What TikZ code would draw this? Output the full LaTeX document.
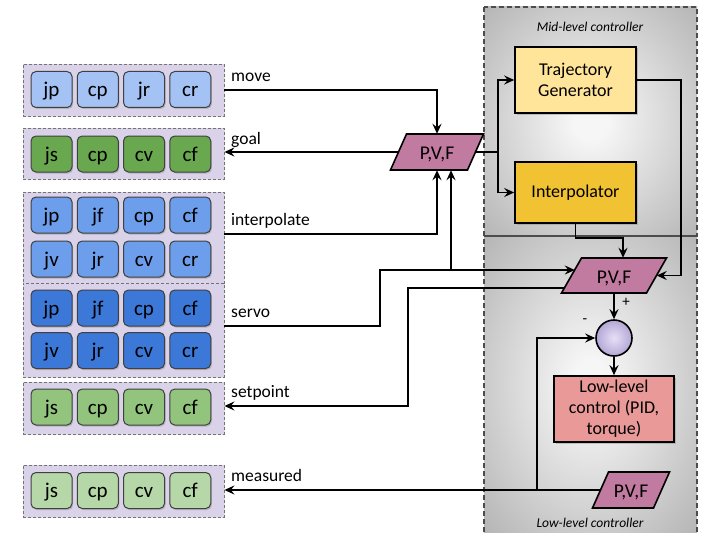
\documentclass[tikz,border=0pt]{standalone}
\usepackage{fontspec}
\setmainfont{Carlito}
\usetikzlibrary{arrows.meta,calc,shadows}

\definecolor{cmove}{HTML}{A4C2F4}
\definecolor{cgoal}{HTML}{6AA84F}
\definecolor{cinterp}{HTML}{6D9EEB}
\definecolor{cservo}{HTML}{3C78D8}
\definecolor{cset}{HTML}{93C47D}
\definecolor{cmeas}{HTML}{B6D7A8}
\definecolor{cgroup}{HTML}{D9D2E9}
\definecolor{cpvf}{HTML}{C27BA0}
\definecolor{ctraj}{HTML}{FFE599}
\definecolor{cinterpbox}{HTML}{F1C232}
\definecolor{clow}{HTML}{EA9999}
\definecolor{csum}{HTML}{B4A7D6}
\definecolor{csumin}{HTML}{E6E0F6}
\definecolor{boxin}{RGB}{246,246,246}
\definecolor{boxout}{RGB}{180,180,180}

\pgfdeclareradialshading{ctrlshade}{\pgfpointorigin}{color(0bp)=(boxin); color(4bp)=(boxin); color(36bp)=(boxout); color(50bp)=(boxout)}

\tikzset{
  conn/.style={line width=1.9pt, draw=black},
  arr/.style={conn, -{Stealth[length=10pt,width=9pt,inset=3.5pt]}},
  grp/.style={fill=cgroup, draw=black!55, dash pattern=on 3pt off 2pt, line width=0.8pt,
    minimum width=201pt, inner sep=0pt,
    drop shadow={shadow xshift=1pt, shadow yshift=-1pt, opacity=0.2}},
  btn/.style={rounded corners=5pt, draw=black!75, line width=1pt, minimum width=41pt,
    minimum height=36pt, inner sep=0pt, text height=16pt, text depth=2pt,
    font=\fontsize{21}{24}\selectfont,
    drop shadow={shadow xshift=1.2pt, shadow yshift=-1.5pt, opacity=0.4}},
  lbl/.style={anchor=base west, inner sep=0pt, font=\fontsize{17.5}{20}\selectfont},
  proc/.style={draw=black, line width=1.6pt, inner sep=0pt, align=center,
    font=\fontsize{18}{21}\selectfont,
    drop shadow={shadow xshift=1.5pt, shadow yshift=-1.5pt, opacity=0.4}},
  pvfnode/.style={inner sep=0pt, font=\fontsize{19.5}{22}\selectfont, minimum height=36pt,
    text height=15.5pt, text depth=0pt},
  pvfshape/.style={fill=cpvf, draw=black, line width=1.6pt},
  ctrl/.style={draw=black!70, line width=1.2pt, dash pattern=on 5pt off 3pt},
  ctrllbl/.style={font=\itshape\fontsize{13.5}{16}\selectfont, inner sep=0pt},
  sign/.style={font=\fontsize{15}{17}\selectfont, inner sep=0pt},
}

\begin{document}
\begin{tikzpicture}[x=1pt,y=-1pt]
\useasboundingbox (0,0) rectangle (703,532);
\fill[white] (0,0) rectangle (703,532);

% controller areas
\shade[shading=ctrlshade] (484,7) rectangle (697,236);
\shade[shading=ctrlshade] (484,236) rectangle (697,532);
\draw[ctrl] (484,7) rectangle (697,236);
\draw[ctrl] (484,532) -- (484,236) -- (697,236) -- (697,532);
\node[ctrllbl] (midlbl) at (590,27) {Mid-level controller};
\node[ctrllbl] (lowlbl) at (590,523) {Low-level controller};

% groups
\node[grp, minimum height=52pt] (g1) at (123.5,90) {};
\node[grp, minimum height=51pt] (g2) at (123.5,153.5) {};
\node[grp, minimum height=91pt] (g3) at (123.5,237.5) {};
\node[grp, minimum height=94pt] (g4) at (123.5,330) {};
\node[grp, minimum height=52pt] (g5) at (123.5,408) {};
\node[grp, minimum height=52pt] (g6) at (123.5,491) {};

\foreach \t [count=\i] in {jp,cp,jr,cr}
  \node[btn, fill=cmove] (ma\i) at ({51.5+46.25*(\i-1)},89.5) {\t};
\foreach \t [count=\i] in {js,cp,cv,cf}
  \node[btn, fill=cgoal] (ga\i) at ({51.5+46.25*(\i-1)},154) {\t};
\foreach \t [count=\i] in {jp,jf,cp,cf}
  \node[btn, fill=cinterp] (ia\i) at ({51.5+46.25*(\i-1)},215) {\t};
\foreach \t [count=\i] in {jv,jr,cv,cr}
  \node[btn, fill=cinterp] (ib\i) at ({51.5+46.25*(\i-1)},259) {\t};
\foreach \t [count=\i] in {jp,jf,cp,cf}
  \node[btn, fill=cservo] (sa\i) at ({51.5+46.25*(\i-1)},308) {\t};
\foreach \t [count=\i] in {jv,jr,cv,cr}
  \node[btn, fill=cservo] (sb\i) at ({51.5+46.25*(\i-1)},350.5) {\t};
\foreach \t [count=\i] in {js,cp,cv,cf}
  \node[btn, fill=cset] (pa\i) at ({51.5+46.25*(\i-1)},407) {\t};
\foreach \t [count=\i] in {js,cp,cv,cf}
  \node[btn, fill=cmeas] (ea\i) at ({51.5+46.25*(\i-1)},490.5) {\t};

% labels
\node[lbl] (lmove) at (231,81.5) {move};
\node[lbl] (lgoal) at (231,144.5) {goal};
\node[lbl] (linterp) at (231,225.5) {interpolate};
\node[lbl] (lservo) at (231,317.5) {servo};
\node[lbl] (lset) at (231,397.5) {setpoint};
\node[lbl] (lmeas) at (231,481.5) {measured};

% process boxes
\node[proc, fill=ctraj, minimum width=121pt, minimum height=66pt] (traj) at (575.5,80) {Trajectory\\Generator};
\node[proc, fill=cinterpbox, minimum width=121pt, minimum height=61pt] (interp) at (575.5,192.5) {Interpolator};
\node[proc, fill=clow, minimum width=120pt, minimum height=66pt] (low) at (614,409) {Low-level\\control (PID,\\torque)};

% P,V,F shapes
\coordinate (c1) at (437,152);
\draw[pvfshape] ($(c1)+(-30.5,-18)$) -- ($(c1)+(46.5,-18)$) -- ($(c1)+(30.5,18)$) -- ($(c1)+(-46.5,18)$) -- cycle;
\node[pvfnode, minimum width=77pt] (p1) at (c1) {P,V,F};

\coordinate (c2) at (614,275.5);
\draw[pvfshape] ($(c2)+(-32.5,-17.5)$) -- ($(c2)+(52.5,-17.5)$) -- ($(c2)+(32.5,17.5)$) -- ($(c2)+(-52.5,17.5)$) -- cycle;
\node[pvfnode, minimum width=85pt, minimum height=35pt] (p2) at (c2) {P,V,F};

\coordinate (c3) at (631,490);
\draw[pvfshape] ($(c3)+(-22.5,-18)$) -- ($(c3)+(38.5,-18)$) -- ($(c3)+(22.5,18)$) -- ($(c3)+(-38.5,18)$) -- cycle;
\node[pvfnode, minimum width=61pt] (p3) at (c3) {P,V,F};

% summing junction
\node[circle, draw=black, line width=1.6pt, minimum size=36pt, inner sep=0pt,
      inner color=csumin, outer color=csum] (sum) at (614,338) {};
\node[sign] (plus) at (626,302) {+};
\node[sign] (minus) at (585,321) {-};

% connectors
\draw[arr] (g1.east) -| (p1.north);
\draw[arr] (p1.west) -- (p1.west -| g2.east);
\draw[arr] ([yshift=3.5pt]g3.east) -| (p1.south);
\draw[arr] ([yshift=4pt]g4.east) -- ++(156,0) |- ($(p2.west)+(3.5,-5.5)$);
\coordinate (sj) at (451,270);
\draw[arr] (sj) -- (sj |- p1.south);
\draw[arr] ($(p2.west)+(-7,12.5)$) -- ++(-156,0) |- ([yshift=2pt]g5.east);
\draw[arr] (p3.west) -- (p3.west -| g6.east);
\coordinate (mj) at (537,490);
\draw[arr] (mj) |- (sum.west);

\coordinate (tj) at (498,152);
\draw[conn] (p1.east) -- (tj);
\draw[arr] (tj) |- (traj.west);
\draw[arr] (tj) |- (interp.west);
\draw[arr] (traj.east) -- ++(44,0) |- (p2.east);
\draw[arr] (interp.south) |- ($(p2.north)+(9,-20)$) -- ($(p2.north)+(9,0)$);
\draw[arr] (p2.south) -- (sum.north);
\draw[arr] (sum.south) -- (low.north);
\end{tikzpicture}
\end{document}
